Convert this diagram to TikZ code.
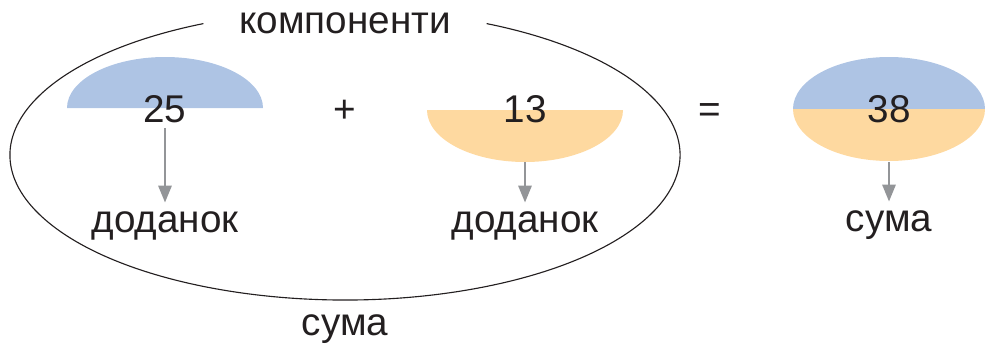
\documentclass[tikz,border=0pt]{standalone}
\usepackage{fontspec}
\setmainfont{Liberation Sans}
\usepackage{tikz}
\usetikzlibrary{arrows.meta,positioning}
\definecolor{inkdark}{HTML}{231F20}
\definecolor{pointergray}{HTML}{939598}
\definecolor{partblue}{HTML}{AEC4E4}
\definecolor{partorange}{HTML}{FED9A0}
\tikzset{
   word/.style={inner sep=0pt, anchor=base, text=inkdark, font=\fontsize{27.5}{33}\selectfont},
   pointer/.style={draw=pointergray, line width=1.4pt, -{Triangle[width=9.5pt,length=12pt]}, shorten >=6pt}
}
\begin{document}
\begin{tikzpicture}[x=0.025cm,y=0.025cm]
  \useasboundingbox (0,0) rectangle (985,344);

  % Colors
  \colorlet{firstcolor}{partblue}
  \colorlet{secondcolor}{partorange}

  % The big oval round the two parts
  \draw[inkdark,line width=0.8pt] (345,189) ++(115:335 and 145)
    arc[start angle=115, end angle=425, x radius=335, y radius=145];

  % The parts
  \fill[firstcolor] (67,236) arc[start angle=180, end angle=0, x radius=98, y radius=51] -- cycle;
  \fill[secondcolor] (427,234) arc[start angle=180, end angle=360, x radius=98, y radius=52] -- cycle;
  \fill[firstcolor] (793,235) arc[start angle=180, end angle=0, x radius=96, y radius=52] -- cycle;
  \fill[secondcolor] (793,235) arc[start angle=180, end angle=360, x radius=96, y radius=52] -- cycle;

  % Numbers and signs
  \node[word] (num25) at (165,222) {25};
  \node[word] (plus) at (345,222) {+};
  \node[word] (num13) at (525,222) {13};
  \node[word] (eq) at (710,222) {=};
  \node[word] (num38) at (889,222) {38};

  % Names
  \node[word] (dod1) at (165,112) {доданок};
  \node[word] (dod2) at (525,112) {доданок};
  \node[word] (suma) at (889,113) {сума};
  \node[word] (komp) at (345,311) {компоненти};
  \node[word] (sumall) at (345,9) {сума};

  \coordinate (s25) at (165,216);
  \coordinate (s13) at (525,182);
  \coordinate (s38) at (889,182);

  \draw[pointer] (s25) -- (dod1.north);
  \draw[pointer] (s13) -- (dod2.north);
  \draw[pointer] (s38) -- (suma.north);
\end{tikzpicture}
\end{document}
